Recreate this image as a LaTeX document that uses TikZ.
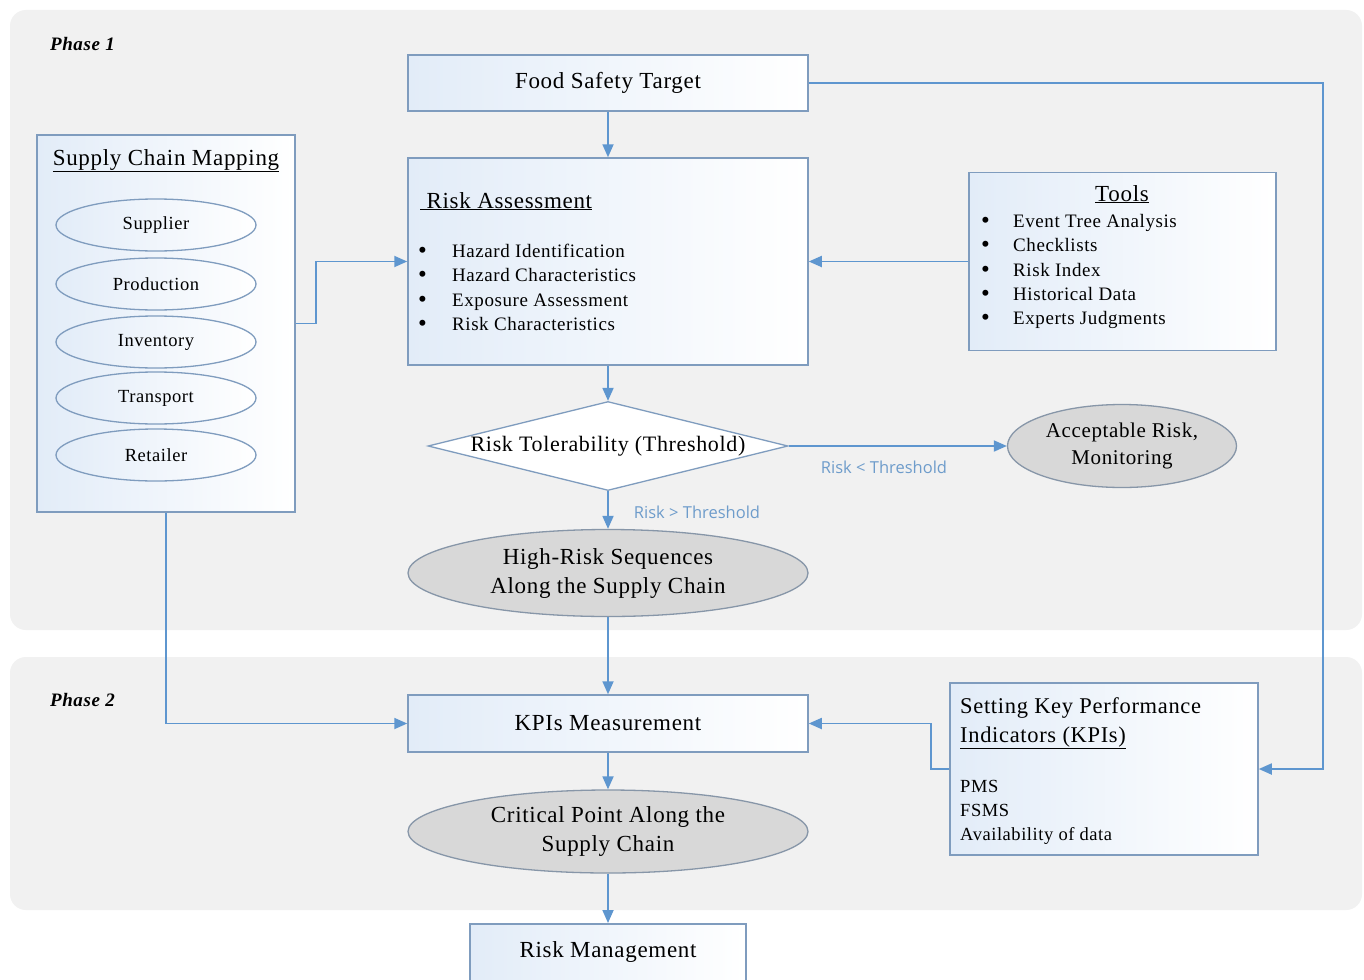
\documentclass[tikz,border=0pt]{standalone}
\usepackage{fontspec}
\setmainfont{Liberation Serif}[LetterSpace=3]
\newfontfamily\labelfont{Open Sans}
\usetikzlibrary{shapes.geometric,arrows.meta}

\definecolor{panel}{HTML}{F1F1F1}
\definecolor{edge}{HTML}{7F9CBE}
\definecolor{conn}{HTML}{5E96CF}
\definecolor{boxtint}{HTML}{E2ECF8}
\definecolor{greyfill}{HTML}{D8D8D8}
\definecolor{greyedge}{HTML}{8796A8}
\definecolor{labelblue}{HTML}{6E9CCB}

\newcommand{\fsz}[2]{\fontsize{#1}{#2}\selectfont}
\newcommand{\blt}{{\fsz{25}{22}\textbullet}}

\begin{document}
\begin{tikzpicture}[x=1pt,y=-1pt,
  phase/.style={fill=panel, rounded corners=16pt},
  box/.style={rectangle, draw=edge, line width=1.5pt, left color=boxtint, right color=white, inner sep=0pt, align=center},
  stage/.style={ellipse, draw=edge, line width=1.3pt, left color=boxtint, right color=white, inner sep=0pt, minimum width=200pt, minimum height=52pt, font=\fsz{18.5}{22}},
  outcome/.style={ellipse, draw=greyedge, line width=1.3pt, fill=greyfill, inner sep=0pt, align=center},
  decision/.style={diamond, draw=edge, line width=1.3pt, fill=white, inner sep=0pt, shape aspect=4.04},
  flow/.style={draw=conn, line width=1.8pt, -{Triangle[length=13pt,width=11pt]}},
  cond/.style={text=labelblue, inner sep=0pt, font=\labelfont\fsz{16.5}{19}},
  txt/.style={anchor=base west, inner sep=0pt},
  phasetitle/.style={anchor=base west, inner sep=0pt, font=\bfseries\itshape\fsz{19}{22}}
]
\clip (0,0) rectangle (1364,979);
\fill[white] (0,0) rectangle (1364,979);

% phase panels
\fill[phase] (10,10) rectangle (1362,630);
\fill[phase] (10,657) rectangle (1362,910);
\node[phasetitle] (p1) at (50,51) {Phase 1};
\node[phasetitle] (p2) at (50,706) {Phase 2};

% main column
\node[box, minimum width=400pt, minimum height=56pt, font=\fsz{23}{27}] (fst) at (608,83) {Food Safety Target};
\node[box, minimum width=400pt, minimum height=207pt] (ra) at (608,261.5) {};
\node[txt, font=\fsz{23}{27}] (ratitle) at (420,208) {\underline{\ Risk Assessment}};
\begin{scope}[every node/.style={txt, font=\fsz{19}{22}}]
  \node (rab1) at (418,258) {\blt};
  \node (rai1) at (452,257) {Hazard Identification};
  \node (rab2) at (418,282) {\blt};
  \node (rai2) at (452,281) {Hazard Characteristics};
  \node (rab3) at (418,307) {\blt};
  \node (rai3) at (452,306) {Exposure Assessment};
  \node (rab4) at (418,331) {\blt};
  \node (rai4) at (452,330) {Risk Characteristics};
\end{scope}

\node[decision, minimum width=360pt, minimum height=89pt, font=\fsz{22}{27}] (thr) at (608,446) {Risk Tolerability (Threshold)};
\node[outcome, minimum width=229pt, minimum height=83pt, font=\fsz{21}{27}] (acc) at (1122,446) {Acceptable Risk,\\Monitoring};
\node[outcome, minimum width=400pt, minimum height=87pt, font=\fsz{23}{29}] (hrs) at (608,573) {High-Risk Sequences\\Along the Supply Chain};

\node[box, minimum width=400pt, minimum height=57pt, font=\fsz{23}{27}] (kpi) at (608,723.5) {KPIs Measurement};
\node[outcome, minimum width=400pt, minimum height=83pt, font=\fsz{23}{29}] (crit) at (608,831.5) {Critical Point Along the\\Supply Chain};
\node[box, minimum width=276pt, minimum height=62pt, anchor=north] (rm) at (608,923) {};
\node[font=\fsz{23}{27}] (rmtext) at (608,952) {Risk Management};

% tools
\node[box, minimum width=307pt, minimum height=178pt] (tools) at (1122.5,261.5) {};
\node[anchor=base, inner sep=0pt, font=\fsz{23}{27}] (tooltitle) at (1122,201) {\underline{Tools}};
\begin{scope}[every node/.style={txt, font=\fsz{19}{22}}]
  \node (tb1) at (981,228) {\blt};
  \node (ti1) at (1013,227) {Event Tree Analysis};
  \node (tb2) at (981,252) {\blt};
  \node (ti2) at (1013,251) {Checklists};
  \node (tb3) at (981,277) {\blt};
  \node (ti3) at (1013,276) {Risk Index};
  \node (tb4) at (981,301) {\blt};
  \node (ti4) at (1013,300) {Historical Data};
  \node (tb5) at (981,325) {\blt};
  \node (ti5) at (1013,324) {Experts Judgments};
\end{scope}

% supply chain mapping
\node[box, minimum width=258pt, minimum height=377pt] (scm) at (166,323.5) {};
\node[anchor=base, inner sep=0pt, font=\fsz{23}{27}] (scmtitle) at (166,165) {\underline{Supply Chain Mapping}};
\node[stage] (sup) at (156,225) {Supplier};
\node[stage] (prod) at (156,284) {Production};
\node[stage] (inv) at (156,342) {Inventory};
\node[stage] (trans) at (156,398) {Transport};
\node[stage] (ret) at (156,455) {Retailer};

% KPI setting
\node[box, minimum width=308pt, minimum height=172pt] (set) at (1104,769) {};
\begin{scope}[every node/.style={txt}]
  \node[font=\fsz{22.5}{27}] (st1) at (960,713) {Setting Key Performance};
  \node[font=\fsz{22.5}{27}] (st2) at (960,742) {\underline{Indicators (KPIs)}};
  \node[font=\fsz{18.5}{22}] (s1) at (960,792) {PMS};
  \node[font=\fsz{18.5}{22}] (s2) at (960,816) {FSMS};
  \node[font=\fsz{18.5}{22}] (s3) at (960,840) {Availability of data};
\end{scope}

% condition labels
\node[cond] (lt) at (884,467) {Risk < Threshold};
\node[cond] (gt) at (697,512) {Risk > Threshold};

% connectors
\draw[flow] (fst) -- (ra);
\draw[flow] (fst.east) -- (1323,83) |- (set.east);
\draw[flow] (scm.east) -- (316,323.5) |- (ra.west);
\draw[flow] (tools.west) -- (ra.east);
\draw[flow] (ra) -- (thr);
\draw[flow] (thr.east) -- (acc.west);
\draw[flow] (thr.south) -- (hrs.north);
\draw[flow] (hrs) -- (kpi);
\draw[flow] (scm.south) |- (kpi.west);
\draw[flow] (set.west) -- (931,769) |- (kpi.east);
\draw[flow] (kpi) -- (crit);
\draw[flow] (crit) -- (rm);
\end{tikzpicture}
\end{document}
